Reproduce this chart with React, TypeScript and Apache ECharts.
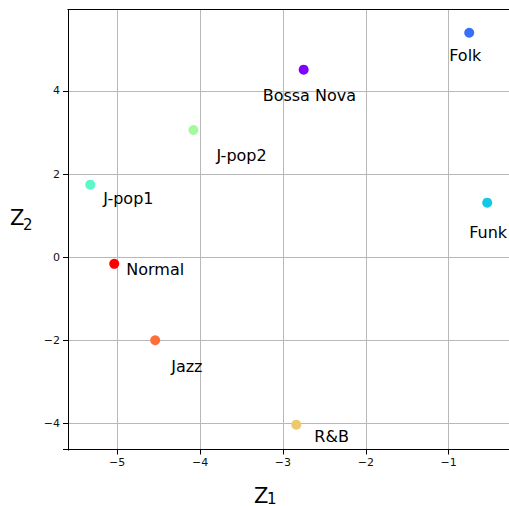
import React, { useEffect, useRef } from "react";
import * as echarts from "echarts";

const genres = ["Bossa Nova", "Folk", "Funk", "J-pop1", "J-pop2", "R&B", "Jazz", "Normal"];
const z1 = [-2.75, -0.752, -0.535, -5.325, -4.08, -2.839, -4.542, -5.036];
const z2 = [4.513, 5.403, 1.311, 1.745, 3.061, -4.034, -2.0, -0.161];
const xTicks = [-5, -4, -3, -2, -1];
const yTicks = [-4, -2, 0, 2, 4];

// styling (not data)
const colors = ["#8000ff", "#376ff9", "#12c8e6", "#5bf9c8", "#a4f99f", "#edc86f", "#ff6f39", "#ff0000"];
const labelOffsets: number[][] = [
  [-41, 26],
  [-20, 23],
  [-18, 30],
  [13, 14],
  [23, 26],
  [18, 12],
  [16, 26],
  [12, 6],
];

const FONT = "DejaVu Sans";
const X_MIN = -5.594;
const X_MAX = -0.272;
const Y_MIN = -4.631;
const Y_MAX = 5.962;

const fmt = (v: number) => (v < 0 ? "\u2212" + Math.abs(v) : String(v));

export default function App() {
  const ref = useRef<HTMLDivElement>(null);
  useEffect(() => {
    if (!ref.current) return;
    const chart = echarts.init(ref.current, null, { renderer: "svg" });
    const data = genres.map((g, i) => ({
      name: g,
      value: [z1[i], z2[i]],
      itemStyle: { color: colors[i], opacity: 1 },
      label: { offset: labelOffsets[i] },
    }));
    const labelStyle = {
      formatter: fmt,
      fontSize: 11,
      fontFamily: FONT,
      color: "#111",
    };
    chart.setOption({
      animation: false,
      backgroundColor: "#ffffff",
      grid: { left: 68, top: 9.5, right: 0, bottom: 56.5, containLabel: false },
      xAxis: [
        {
          type: "value",
          min: X_MIN,
          max: X_MAX,
          splitNumber: 5,
          position: "bottom",
          axisLine: { show: true, onZero: false, lineStyle: { color: "#000", width: 1 } },
          axisTick: { show: true, length: 5, lineStyle: { color: "#000", width: 1 } },
          axisLabel: { ...labelStyle, customValues: xTicks, margin: 7 },
          splitLine: { show: true, lineStyle: { color: "#b8b8b8", width: 1 } },
        },
        {
          type: "value",
          min: X_MIN,
          max: X_MAX,
          position: "top",
          axisLine: { show: true, onZero: false, lineStyle: { color: "#000", width: 1 } },
          axisTick: { show: false },
          axisLabel: { show: false },
          splitLine: { show: false },
        },
      ],
      yAxis: {
        type: "value",
        min: Y_MIN,
        max: Y_MAX,
        splitNumber: 5,
        axisLine: { show: true, onZero: false, lineStyle: { color: "#000", width: 1 } },
        axisTick: { show: true, length: 5, lineStyle: { color: "#000", width: 1 } },
        axisLabel: { ...labelStyle, customValues: yTicks, margin: 8 },
        splitLine: { show: true, lineStyle: { color: "#b8b8b8", width: 1 } },
      },
      graphic: [
        { type: "rect", z: 100, shape: { x: 60, y: 6, width: 7.5, height: 7 }, style: { fill: "#fff" } },
        { type: "rect", z: 100, shape: { x: 65, y: 450.5, width: 6, height: 7 }, style: { fill: "#fff" } },
        { type: "text", left: 10, top: 207, style: { text: "Z", fontSize: 21, fontFamily: FONT, fill: "#000" } },
        { type: "text", left: 23, top: 217, style: { text: "2", fontSize: 15, fontFamily: FONT, fill: "#000" } },
        { type: "text", left: 254, top: 485, style: { text: "Z", fontSize: 21, fontFamily: FONT, fill: "#000" } },
        { type: "text", left: 267, top: 491, style: { text: "1", fontSize: 15, fontFamily: FONT, fill: "#000" } },
      ],
      series: [
        {
          type: "scatter",
          xAxisIndex: 0,
          symbolSize: 10,
          data,
          label: {
            show: true,
            formatter: "{b}",
            position: "inside",
            align: "left",
            verticalAlign: "middle",
            color: "#000",
            fontSize: 16,
            fontFamily: FONT,
          },
          emphasis: { disabled: true },
        },
      ],
    });
    return () => chart.dispose();
  }, []);
  return (
    <div
      ref={ref}
      style={{ position: "fixed", left: 0, top: 0, width: 509, height: 506 }}
    />
  );
}
